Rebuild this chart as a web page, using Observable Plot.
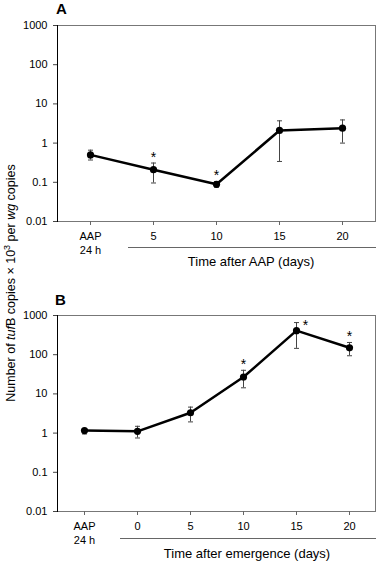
<!DOCTYPE html>
<html>
<head>
<meta charset="utf-8">
<script src="https://cdn.jsdelivr.net/npm/d3@7"></script>
<script src="https://cdn.jsdelivr.net/npm/@observablehq/plot@0.6"></script>
<style>
  html, body { margin: 0; padding: 0; background: #fff; }
  #wrap { position: relative; width: 376px; height: 561px; overflow: hidden;
          font-family: "Liberation Sans", Arial, sans-serif; color: #000; }
  .pl { position: absolute; left: 0; }
  .panel-letter { position: absolute; font-weight: bold; font-size: 15px; line-height: 1; }
  .rule { position: absolute; height: 0; border-top: 1px solid #666; }
  .cap { position: absolute; font-size: 13px; line-height: 1; white-space: nowrap; transform: translateX(-50%); }
  #ylab { position: absolute; left: 11px; top: 283px; font-size: 12.5px; white-space: nowrap; line-height: 1;
          transform: translate(-50%, -50%) rotate(-90deg); }
  #ylab sup { font-size: 9px; vertical-align: 5px; line-height: 0; }
</style>
</head>
<body>
<div id="wrap">
  <div class="panel-letter" style="left:56px;top:1px">A</div>
  <div class="panel-letter" style="left:55px;top:292px">B</div>
  <div id="ylab">Number of <i>tuf</i>B copies × 10<sup>3</sup> per <i>wg</i> copies</div>
  <div class="rule" style="left:128px;top:247px;width:248px"></div>
  <div class="rule" style="left:120px;top:538px;width:256px"></div>
  <div class="cap" style="left:251px;top:255px">Time after AAP (days)</div>
  <div class="cap" style="left:247px;top:547px">Time after emergence (days)</div>
</div>
<script>
// Panel A data
const catsA = ["AAP", "5", "10", "15", "20"];
const labelsA = ["AAP\n24 h", "5", "10", "15", "20"];
const valuesA = [0.5, 0.21, 0.089, 2.1, 2.4];
const lowA = [0.37, 0.096, 0.075, 0.34, 1.0];
const highA = [0.66, 0.31, 0.104, 3.7, 3.9];
const starsA = ["", "above", "above", "", ""];

// Panel B data
const catsB = ["AAP", "0", "5", "10", "15", "20"];
const labelsB = ["AAP\n24 h", "0", "5", "10", "15", "20"];
const valuesB = [1.16, 1.11, 3.3, 27, 410, 150];
const lowB = [0.95, 0.75, 1.93, 14.3, 145, 94];
const highB = [1.3, 1.49, 4.6, 40, 660, 205];
const starsB = ["", "", "", "above", "beside", "above"];

const yTicks = [0.01, 0.1, 1, 10, 100, 1000];

// horizontal dash symbol for error-bar caps
const capSymbol = {
  draw(context, size) {
    const w = Math.sqrt(size / Math.PI);
    context.moveTo(-w, 0);
    context.lineTo(w, 0);
  }
};

function panel(cats, labels, vals, lo, hi, stars) {
  const data = cats.map((c, i) => ({c, v: vals[i], lo: lo[i], hi: hi[i], star: stars[i]}));
  const labelOf = Object.fromEntries(cats.map((c, i) => [c, labels[i]]));
  return Plot.plot({
    width: 376,
    height: 260,
    marginTop: 25,
    marginBottom: 39,
    marginLeft: 57,
    marginRight: 1,
    style: {fontFamily: "'Liberation Sans', Arial, sans-serif", fontSize: "11px", color: "#000", background: "transparent"},
    x: {type: "point", domain: cats, padding: 0.5, axis: null},
    y: {type: "log", domain: [0.01, 1000], axis: null},
    marks: [
      Plot.frame({stroke: "#777"}),
      Plot.frame({anchor: "left", stroke: "#000"}),
      Plot.axisY({ticks: yTicks, tickFormat: d => String(d), tickSize: 4, tickPadding: 6, label: null, stroke: "#444", fill: "#000"}),
      Plot.axisX({tickFormat: d => labelOf[d], tickSize: 4, tickPadding: 5, lineHeight: 1.27, label: null, stroke: "#666", fill: "#000"}),
      Plot.ruleX(data, {x: "c", y1: "lo", y2: "hi", stroke: "#444", strokeWidth: 1}),
      Plot.dot(data, {x: "c", y: "lo", symbol: capSymbol, r: 2.5, stroke: "#444", fill: "none", strokeWidth: 1}),
      Plot.dot(data, {x: "c", y: "hi", symbol: capSymbol, r: 2.5, stroke: "#444", fill: "none", strokeWidth: 1}),
      Plot.line(data, {x: "c", y: "v", stroke: "#000", strokeWidth: 2.5}),
      Plot.dot(data, {x: "c", y: "v", r: 3.6, fill: "#000"}),
      Plot.text(data.filter(d => d.star === "above"), {x: "c", y: "hi", text: () => "*", fontSize: 14, dy: -6}),
      Plot.text(data.filter(d => d.star === "beside"), {x: "c", y: "hi", text: () => "*", fontSize: 14, dx: 9, dy: 3})
    ]
  });
}

const wrap = document.getElementById("wrap");
const pA = panel(catsA, labelsA, valuesA, lowA, highA, starsA);
pA.classList.add("pl");
pA.style.top = "0px";
wrap.appendChild(pA);
const pB = panel(catsB, labelsB, valuesB, lowB, highB, starsB);
pB.classList.add("pl");
pB.style.top = "290px";
wrap.appendChild(pB);
</script>
</body>
</html>
